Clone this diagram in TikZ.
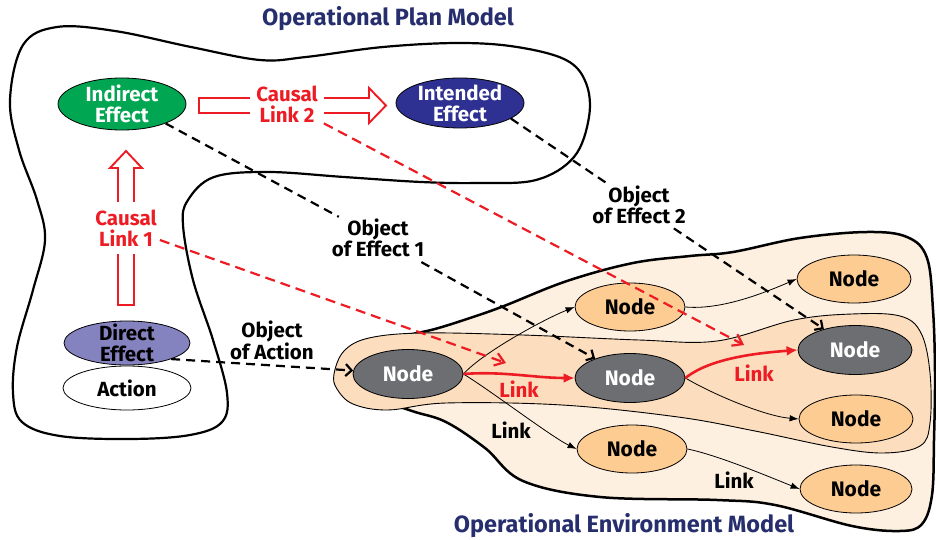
\documentclass[tikz,border=0pt]{standalone}
\usepackage{fontspec}
\setmainfont{Fira Sans}
\usetikzlibrary{arrows.meta,shapes.geometric}
\definecolor{myred}{HTML}{ED1C24}
\definecolor{envlight}{HTML}{FEF0E0}
\definecolor{envmid}{HTML}{FCDDBD}
\definecolor{nodeorange}{HTML}{FDCC93}
\definecolor{nodegray}{HTML}{6D6E71}
\definecolor{effgreen}{HTML}{00A651}
\definecolor{effnavy}{HTML}{2E3191}
\definecolor{effpurple}{HTML}{8582C0}
\definecolor{titlecol}{HTML}{262E6E}
\begin{document}
\begin{tikzpicture}[x=1pt,y=-1pt,
  txt/.style={font=\fontsize{20.5}{21}\selectfont\bfseries, align=center, inner sep=2pt},
  ellbase/.style={ellipse, draw=black, line width=0.8pt, inner sep=0pt},
  gnode/.style={ellbase, fill=nodegray, text=white, font=\fontsize{21}{21}\selectfont\bfseries, minimum width=110pt, minimum height=49pt},
  onode/.style={ellbase, fill=nodeorange, text=black, font=\fontsize{21}{21}\selectfont\bfseries, minimum width=112pt, minimum height=48pt},
  thinlink/.style={line width=0.8pt, -{Latex[length=9pt,width=6.5pt]}},
  redlink/.style={draw=myred, line width=2.6pt, -{Latex[length=11pt,width=10pt]}},
  bdash/.style={line width=2.2pt, dash pattern=on 9pt off 6pt, -{Straight Barb[length=6pt,width=12pt]}},
  rdash/.style={draw=myred, line width=2.2pt, dash pattern=on 10pt off 6pt, -{Straight Barb[length=9pt,width=13pt]}},
  hollow/.style={draw=myred, line width=1.9pt, fill=white, line join=miter},
  ttl/.style={txt, font=\fontsize{23.5}{24}\selectfont\bfseries, text=titlecol}
]
\useasboundingbox (0,0) rectangle (936,540);

% environment blobs
\draw[line width=2.5pt, fill=envlight] plot[smooth cycle, tension=0.6] coordinates {
 (435,329) (470,318) (504,306) (567,281) (633,263) (690,256) (733,252) (800,238)
 (867,232) (907,237) (927,258) (933,310) (935,373) (934,440) (932,495) (922,524)
 (900,531) (852,526) (775,505) (717,500) (600,497) (523,481) (485,448) (446,422)
 (412,411) (378,398) (355,376) (372,348) (405,336)};
\draw[line width=0.9pt, fill=envmid] plot[smooth cycle, tension=0.6] coordinates {
 (334,374) (344,351) (369,338) (423,333) (523,335) (639,340) (717,341) (794,320)
 (852,314) (900,316) (921,333) (930,373) (930,423) (920,446) (883,453) (832,447)
 (755,431) (678,417) (562,405) (446,403) (388,410) (353,404) (337,389)};

% plan blob
\draw[line width=2.2pt] plot[smooth cycle, tension=0.6] coordinates {
 (57,27) (115,31) (191,47) (260,60) (306,57) (383,47) (459,43) (517,47) (566,60)
 (586,83) (589,117) (574,157) (536,180) (478,183) (421,182) (344,177) (268,172)
 (214,177) (188,200) (183,225) (193,280) (213,340) (227,393) (222,422) (190,435)
 (130,439) (60,436) (22,422) (13,393) (17,347) (33,290) (45,240) (37,200) (19,150)
 (10,100) (23,45)};

% plan nodes
\node[ellbase, fill=effgreen, minimum width=128pt, minimum height=52pt] (ie) at (122,104) {};
\node[txt, text=white] (ietxt) at (ie) {Indirect\\Effect};
\node[ellbase, fill=effnavy, minimum width=128pt, minimum height=50pt] (ine) at (460,103) {};
\node[txt, text=white] (inetxt) at (ine) {Intended\\Effect};
\node[ellbase, fill=white, minimum width=128pt, minimum height=44pt] (act) at (127,388) {};
\node[txt] (acttxt) at (act) {Action};
\node[ellbase, fill=effpurple, minimum width=126pt, minimum height=44pt] (de) at (127,343) {};
\node[txt] (detxt) at (de) {Direct\\Effect};

% environment nodes
\node[gnode] (g1) at (408,374) {Node};
\node[gnode] (g2) at (630,378) {Node};
\node[gnode, minimum width=114pt] (g3) at (855,350) {Node};
\node[onode, minimum width=110pt] (o1) at (630,307) {Node};
\node[onode, minimum width=114pt] (o3) at (854,279) {Node};
\node[onode, minimum width=114pt] (o5) at (856,419) {Node};
\node[onode, minimum width=110pt] (o4) at (632,449) {Node};
\node[onode] (o6) at (856,489) {Node};

% links
\draw[thinlink] (g1.east) .. controls +(20,-22) and +(-30,12) .. (o1.west);
\draw[thinlink] (g1.east) .. controls +(25,15) and +(-25,-12) .. (o4.west);
\draw[thinlink] (g2.east) .. controls +(25,15) and +(-35,-3) .. (o5.west);
\draw[thinlink] (o1.east) .. controls +(35,3) and +(-35,15) .. (o3.west);
\draw[thinlink] (o4.east) .. controls +(30,6) and +(-30,-12) .. (o6.west);
\draw[redlink] (g1.east) .. controls +(40,-3) and +(-40,0) .. (g2.west);
\draw[redlink] (g2.east) .. controls +(25,-20) and +(-40,3) .. (g3.west);

% hollow causal arrows
\draw[hollow] (199,98) -- (369,98) -- (369,88) -- (386,105.5) -- (369,123) -- (369,113) -- (199,113) -- cycle;
\draw[hollow] (118,305) -- (118,168) -- (110,168) -- (126,151) -- (142,168) -- (134,168) -- (134,305) -- cycle;
\node[txt, text=myred, fill=white, inner xsep=6pt, inner ysep=3pt] (cl2) at (287,104) {Causal\\Link 2};
\node[txt, text=myred, fill=white, inner xsep=3pt, inner ysep=8pt] (cl1) at (126,228) {Causal\\Link 1};

% labels
\node[txt] (oe1) at (378,238) {Object\\of Effect 1};
\node[txt] (oe2) at (639,205) {Object\\of Effect 2};
\node[txt] (oa) at (272,340) {Object\\of Action};
\node[txt, text=myred] (lk1) at (519,389) {Link};
\node[txt, text=myred] (lk2) at (754,373) {Link};
\node[txt] (lk3) at (511,430) {Link};
\node[txt] (lk4) at (734,480) {Link};
\node[ttl] (t1) at (388,19) {Operational Plan Model};
\node[ttl] (t2) at (624,526) {Operational Environment Model};

% dashed mappings
\coordinate (rt1) at (506,363);
\coordinate (rt2) at (744,345);
\draw[rdash] (cl1) -- (rt1);
\draw[rdash] (cl2) -- (rt2);
\draw[bdash, shorten <=6pt] (ie.-24) -- (oe1) -- (g2);
\draw[bdash, shorten <=4pt] (ine.-17) -- (oe2) -- (g3);
\draw[bdash] (de.-20) -- (g1);
\end{tikzpicture}
\end{document}
